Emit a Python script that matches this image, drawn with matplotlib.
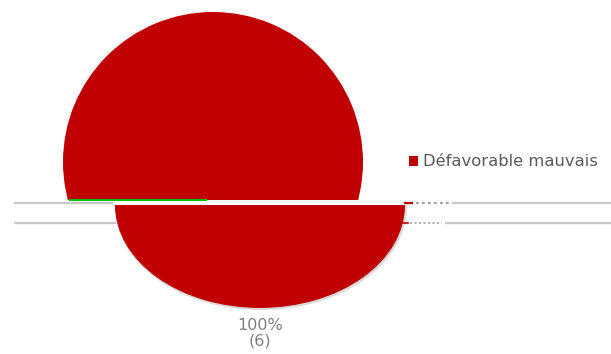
import matplotlib
matplotlib.use("Agg")
import matplotlib.pyplot as plt
from matplotlib.transforms import Affine2D
from matplotlib.patches import Rectangle

# ── Data ─────────────────────────────────────────────────────────────── #
labels = ["Défavorable mauvais"]
counts = [6]
colors = ["#c00000"]

total = sum(counts)
pct_labels = [f"{100 * c / total:.0f}%\n({c})" for c in counts]

W, H = 611, 354
fig = plt.figure(figsize=(W / 100, H / 100), dpi=100)
ax = fig.add_axes([0, 0, 1, 1])

# upper (cut) half of the pie
top, _ = ax.pie(counts, colors=colors, center=(213, 162), radius=150,
                startangle=90, frame=True, wedgeprops=dict(linewidth=0))
clip_top = Rectangle((0, 0), W, 200, transform=ax.transData)
for w in top:
    w.set_clip_on(True)
    w.set_clip_path(clip_top)

# lower, flattened half of the pie
squash = Affine2D().translate(-260, -205).scale(1, 0.71).translate(260, 205)
shadow, _ = ax.pie(counts, colors=["#d9d9d9"], center=(261, 207), radius=146,
                   startangle=90, frame=True, wedgeprops=dict(linewidth=0))
bottom, _ = ax.pie(counts, colors=colors, center=(260, 205), radius=145,
                   startangle=90, frame=True, wedgeprops=dict(linewidth=0))
clip_bot = Rectangle((0, 205), W, 150, transform=ax.transData)
for w in shadow + bottom:
    w.set_transform(squash + ax.transData)
    w.set_clip_on(True)
    w.set_clip_path(clip_bot)

# leftover guide lines
for y, segs in [(203, [(14, 113), (452, 611)]), (223, [(14, 116), (445, 611)])]:
    for x0, x1 in segs:
        ax.plot([x0, x1], [y, y], color="#c8c8c8", lw=1.6, solid_capstyle="butt")
ax.plot([410, 450], [203, 203], color="#a0a0a0", lw=1.6, ls=(0, (1.2, 1.5)))
ax.plot([410, 442], [223, 223], color="#a0a0a0", lw=1.2, ls=(0, (1.2, 1.5)))
ax.plot([405, 412], [203, 203], color="#c00000", lw=1.6)
ax.plot([403, 408], [223, 223], color="#c00000", lw=1.2)
ax.plot([70, 206], [200, 200], color="#00c000", lw=1.5)

# data label
ax.text(260, 333, pct_labels[0], ha="center", va="center", fontsize=11.5,
        color="#7f7f7f", linespacing=1.05)

ax.set_xlim(0, W)
ax.set_ylim(H, 0)
ax.set_aspect("auto")
ax.axis("off")

ax.legend(bottom, labels, loc="center left", bbox_to_anchor=(409 / W, 1 - 162 / H),
          frameon=False, fontsize=11.8, labelcolor="#595959", borderpad=0,
          borderaxespad=0, handlelength=0.55, handleheight=0.55, handletextpad=0.3)

fig.savefig("out.png", dpi=100)
